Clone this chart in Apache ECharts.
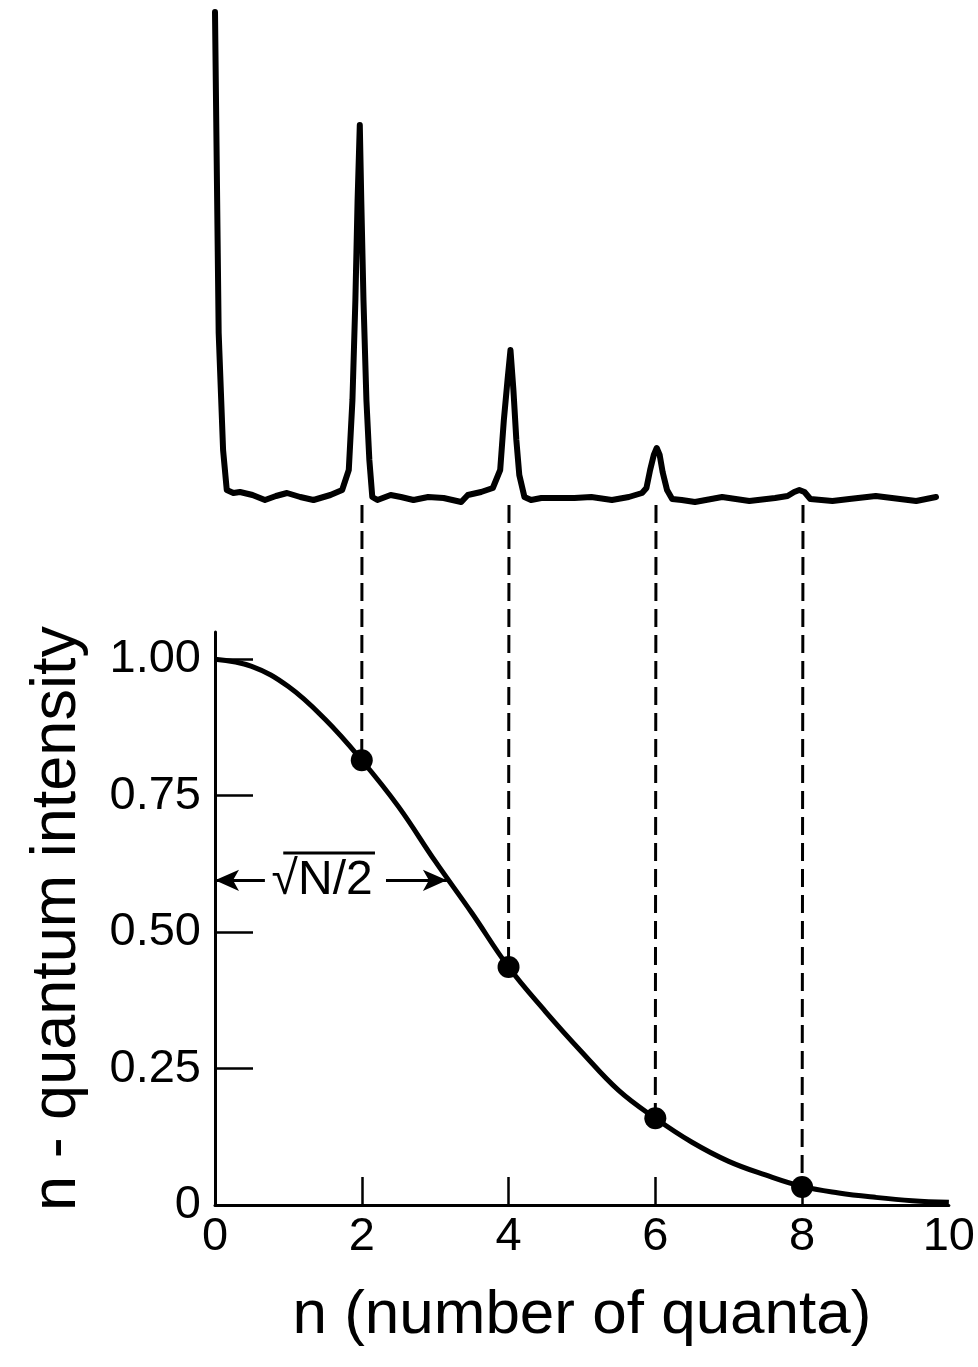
<!DOCTYPE html>
<html>
<head>
<meta charset="utf-8">
<script src="https://cdn.jsdelivr.net/npm/echarts@6/dist/echarts.min.js"></script>
<style>
html,body{margin:0;padding:0;background:#fff;}
#c{width:978px;height:1367px;}
</style>
</head>
<body>
<div id="c"></div>
<script>
// ---- Data ----
// Top: recorded spectrum trace (n position, signal height in arbitrary units)
const traceN = [0,0.05,0.11,0.16,0.25,0.34,0.51,0.68,0.83,0.98,1.16,1.34,1.57,1.73,1.82,1.87,1.91,1.94,1.97,1.99,2.02,2.06,2.10,2.14,2.21,2.39,2.53,2.70,2.90,3.11,3.35,3.44,3.62,3.78,3.88,3.93,3.98,4.02,4.06,4.10,4.14,4.21,4.30,4.44,4.67,4.89,5.12,5.40,5.63,5.81,5.87,5.92,5.97,6.01,6.05,6.09,6.15,6.22,6.35,6.53,6.90,7.27,7.62,7.79,7.88,7.95,8.02,8.10,8.40,8.63,8.99,9.32,9.54,9.81];
const traceV = [488,167,50,10,7,8,5,0,4,7,3,0,5,10,30,100,200,300,375,300,200,100,40,3,0,5,3,0,3,2,-2,5,8,12,30,80,120,150,110,60,25,3,0,2,2,2,3,0,3,7,12,30,45,52,45,28,10,1,0,-2,3,-1,2,4,8,10,8,1,-1,1,4,1,-1,3];
// Bottom: n-quantum intensity curve
const curveN = [0,0.5,1,1.5,2,2.5,3,3.5,4,4.5,5,5.5,6,6.5,7,7.5,8,8.5,9,9.5,10];
const curveI = [1.00,0.987,0.95,0.89,0.815,0.73,0.63,0.535,0.436,0.355,0.28,0.21,0.159,0.115,0.08,0.055,0.034,0.022,0.014,0.008,0.005];
// Measured points
const pointN = [2,4,6,8];
const pointI = [0.815,0.436,0.159,0.033];
// Axis ticks
const xTickValues = [0,2,4,6,8,10];
const xTickMarks = [2,4,6,8];
const yTickValues = [0,0.25,0.5,0.75,1.0];
const yTickLabels = ['0','0.25','0.50','0.75','1.00'];
// Annotation: sqrt(N/2) width marker
const widthLevel = 0.595;
const widthN = 3.16;
const widthLabel = '\u221AN/2';

const FONT = '"Liberation Sans", Arial, Helvetica, sans-serif';
const chart = echarts.init(document.getElementById('c'), null, {renderer:'canvas'});

const option = {
  animation: false,
  backgroundColor: '#fff',
  grid: [
    {left: 215, width: 735, top: 10, height: 500},
    {left: 215, width: 735, top: 632, height: 573}
  ],
  xAxis: [
    {gridIndex: 0, type: 'value', min: 0, max: 10, show: false},
    {gridIndex: 1, type: 'value', min: 0, max: 10, interval: 2,
     axisLine: {show: true, lineStyle: {color: '#000', width: 3}},
     axisTick: {show: true, inside: true, length: 28, customValues: xTickMarks, lineStyle: {color: '#000', width: 2.5}},
     axisLabel: {customValues: xTickValues, color: '#000', fontSize: 47, fontFamily: FONT, margin: 9},
     splitLine: {show: false},
     name: 'n (number of quanta)', nameLocation: 'middle', nameGap: 80,
     nameTextStyle: {color: '#000', fontSize: 62, fontFamily: FONT}}
  ],
  yAxis: [
    {gridIndex: 0, type: 'value', min: -10, max: 490, show: false},
    {gridIndex: 1, type: 'value', min: 0, max: 1.05,
     axisLine: {show: true, lineStyle: {color: '#000', width: 3}},
     axisTick: {show: true, inside: true, length: 38, customValues: yTickValues, lineStyle: {color: '#000', width: 2.5}},
     axisLabel: {customValues: yTickValues, color: '#000', fontSize: 47, fontFamily: FONT, margin: 14,
       formatter: function (v) { const i = yTickValues.indexOf(v); return i >= 0 ? yTickLabels[i] : ''; }},
     splitLine: {show: false},
     name: 'n - quantum intensity', nameLocation: 'middle', nameGap: 126,
     nameTextStyle: {color: '#000', fontSize: 63, fontFamily: FONT}}
  ],
  series: [
    {type: 'line', xAxisIndex: 0, yAxisIndex: 0, showSymbol: false, symbol: 'none',
     data: traceN.map((n, i) => [n, traceV[i]]),
     lineStyle: {color: '#000', width: 6, join: 'round', cap: 'round'}, silent: true, clip: false},
    {type: 'line', xAxisIndex: 1, yAxisIndex: 1, showSymbol: false, symbol: 'none', smooth: 0.4,
     data: curveN.map((n, i) => [n, curveI[i]]),
     lineStyle: {color: '#000', width: 5}, silent: true, clip: false,
     markLine: {
       silent: true, animation: false,
       symbolSize: [16, 24],
       lineStyle: {color: '#000', width: 3, type: 'solid'},
       label: {show: false},
       data: [
         [{coord: [0.68, widthLevel], symbol: 'none'}, {coord: [0, widthLevel], symbol: 'arrow'}],
         [{coord: [2.33, widthLevel], symbol: 'none'}, {coord: [widthN, widthLevel], symbol: 'arrow'}]
       ]
     }},
    {type: 'scatter', xAxisIndex: 1, yAxisIndex: 1, symbol: 'circle', symbolSize: 22,
     data: pointN.map((n, i) => [n, pointI[i]]),
     itemStyle: {color: '#000', opacity: 1}, silent: true, z: 5}
  ]
};
chart.setOption(option);

// Dashed connectors from the spectrum baseline down to the measured points, plus label
const g = [];
pointN.forEach((n, i) => {
  const top = chart.convertToPixel({xAxisIndex: 0, yAxisIndex: 0}, [n, -5]);
  const bot = chart.convertToPixel({xAxisIndex: 1, yAxisIndex: 1}, [n, pointI[i]]);
  g.push({type: 'line', silent: true, z: 1,
    shape: {x1: top[0], y1: top[1], x2: bot[0], y2: bot[1]},
    style: {stroke: '#000', lineWidth: 3, lineDash: [18, 8]}});
});
const lp = chart.convertToPixel({xAxisIndex: 1, yAxisIndex: 1}, [1.46, widthLevel]);
g.push({type: 'text', silent: true, z: 10, x: lp[0], y: lp[1],
  style: {text: widthLabel, fill: '#000', font: '48px ' + FONT, align: 'center', verticalAlign: 'middle'}});
const o1 = chart.convertToPixel({xAxisIndex: 1, yAxisIndex: 1}, [0.93, 0.645]);
const o2 = chart.convertToPixel({xAxisIndex: 1, yAxisIndex: 1}, [2.18, 0.645]);
g.push({type: 'line', silent: true, z: 10,
  shape: {x1: o1[0], y1: o1[1], x2: o2[0], y2: o2[1]},
  style: {stroke: '#000', lineWidth: 3}});
chart.setOption({graphic: g});
</script>
</body>
</html>
